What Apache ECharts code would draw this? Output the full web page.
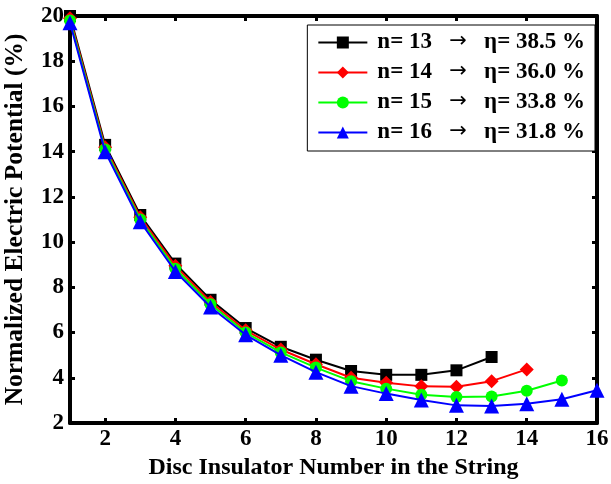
<!DOCTYPE html>
<html><head><meta charset="utf-8">
<script src="https://cdn.jsdelivr.net/npm/echarts@6/dist/echarts.min.js"></script>
<style>html,body{margin:0;padding:0;background:#fff}#c{width:611px;height:484px}</style>
</head><body><div id="c"></div>
<script>
const discNumbers = [1,2,3,4,5,6,7,8,9,10,11,12,13,14,15,16];
const xTicks = [2,4,6,8,10,12,14,16];
const seriesNames = [
  "n= 13  \u2192   \u03b7= 38.5 %",
  "n= 14  \u2192   \u03b7= 36.0 %",
  "n= 15  \u2192   \u03b7= 33.8 %",
  "n= 16  \u2192   \u03b7= 31.8 %"
];
const n13 = [20.0, 14.3, 11.2, 9.05, 7.45, 6.2, 5.37, 4.8, 4.3, 4.13, 4.13, 4.33, 4.92];
const n14 = [19.9, 14.2, 11.1, 8.95, 7.35, 6.1, 5.25, 4.6, 4.0, 3.78, 3.62, 3.6, 3.85, 4.37];
const n15 = [19.8, 14.1, 11.0, 8.82, 7.25, 6.0, 5.12, 4.45, 3.85, 3.52, 3.25, 3.15, 3.17, 3.43, 3.88];
const n16 = [19.7, 14.0, 10.9, 8.7, 7.13, 5.9, 5.0, 4.25, 3.63, 3.3, 3.02, 2.78, 2.75, 2.85, 3.05, 3.45];

const font = "'Liberation Serif', 'DejaVu Serif', serif";
const pair = arr => arr.map((v,i)=>[discNumbers[i], v]);
const styles = [
  {color:'#000000', symbol:'rect', size:12},
  {color:'#ff0000', symbol:'diamond', size:14},
  {color:'#00ff00', symbol:'circle', size:12},
  {color:'#0000ff', symbol:'triangle', size:15}
];
const datasets = [n13, n14, n15, n16];
const chart = echarts.init(document.getElementById('c'), null, {renderer:'canvas'});
const axisLine = {lineStyle:{color:'#000', width:4}};
const tick = {inside:true, length:5, lineStyle:{color:'#000', width:3}};
chart.setOption({
  animation:false,
  backgroundColor:'#fff',
  grid:{left:70, right:14, top:16, bottom:61, containLabel:false, outerBoundsMode:'none'},
  legend:{
    orient:'vertical', right:16, top:25,
    backgroundColor:'#fff', borderColor:'#000', borderWidth:1,
    padding:[6,10,7,10], itemGap:7, itemWidth:49, itemHeight:15,
    textStyle:{fontFamily:font, fontWeight:'bold', fontSize:23, color:'#000', padding:[0,0,0,5],
      rich:{
        t:{fontFamily:font, fontWeight:'bold', fontSize:23, color:'#000'},
        a:{fontFamily:"'DejaVu Sans', sans-serif", fontWeight:'normal', fontSize:21, color:'#000', padding:[0,0,2,0]}
      }},
    formatter: name => {
      const p = name.split('\u2192');
      return '{t|' + p[0].trimEnd() + '}   {a|\u2192}   {t|' + p[1].trim() + '}';
    },
    data: seriesNames
  },
  xAxis:[{
    type:'value', min:1, max:16, position:'bottom',
    name:'Disc Insulator Number in the String', nameLocation:'middle', nameGap:33,
    nameTextStyle:{fontFamily:font, fontWeight:'bold', fontSize:24, color:'#000'},
    axisLine:axisLine,
    axisTick:Object.assign({customValues:xTicks}, tick),
    axisLabel:{fontFamily:font, fontWeight:'bold', fontSize:23, color:'#000', margin:5, customValues:xTicks},
    splitLine:{show:false}
  },{
    type:'value', min:1, max:16, position:'top',
    axisLine:axisLine,
    axisTick:Object.assign({customValues:xTicks}, tick),
    axisLabel:{show:false}, splitLine:{show:false}
  }],
  yAxis:[{
    type:'value', min:2, max:20, interval:2, position:'left',
    name:'Normalized Electric Potential (%)', nameLocation:'middle', nameGap:42,
    nameTextStyle:{fontFamily:font, fontWeight:'bold', fontSize:25.5, color:'#000', padding:[0,0,0,0]},
    axisLine:axisLine,
    axisTick:tick,
    axisLabel:{fontFamily:font, fontWeight:'bold', fontSize:23, color:'#000', margin:6},
    splitLine:{show:false}
  },{
    type:'value', min:2, max:20, interval:2, position:'right',
    axisLine:axisLine,
    axisTick:tick,
    axisLabel:{show:false}, splitLine:{show:false}
  }],
  series: datasets.map((d,i)=>({
    name: seriesNames[i], type:'line', data: pair(d),
    xAxisIndex:0, yAxisIndex:0,
    symbol: styles[i].symbol, symbolSize: styles[i].size,
    showAllSymbol:true, clip:false,
    lineStyle:{color:styles[i].color, width:2},
    itemStyle:{color:styles[i].color, borderWidth:0},
    z: 2 + i
  }))
});
</script></body></html>
